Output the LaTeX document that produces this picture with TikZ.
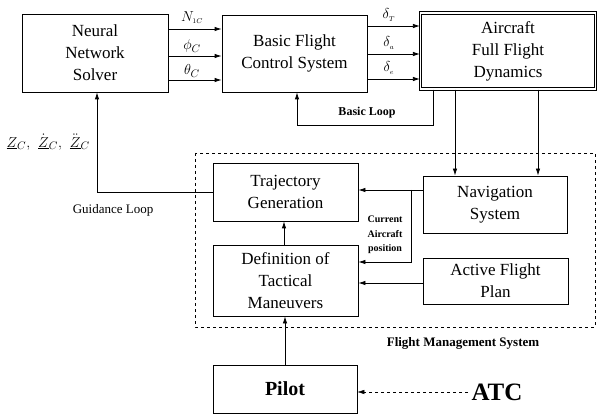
\documentclass[tikz,border=0pt]{standalone}
\usepackage{fontspec}
\setmainfont{Liberation Serif}
\usetikzlibrary{arrows.meta,calc}

\begin{document}
\begin{tikzpicture}[x=1pt,y=-1pt,
  blk/.style={draw,thick,align=center,font=\fontsize{17}{22}\selectfont,inner sep=0pt},
  arr/.style={thick,-{Latex[length=7pt,width=4.5pt]}},
  lbl/.style={font=\fontsize{15}{18}\selectfont}]
\useasboundingbox (0,0) rectangle (600,414);
\node[blk,minimum width=146,minimum height=78] (nns) at (95,53) {Neural\\Network\\Solver};
\node[blk,minimum width=145,minimum height=77] (bfcs) at (294.5,53.5) {Basic Flight\\Control System};
\node[blk,minimum width=175,minimum height=76,line width=1.2pt,double,double distance=1.3pt] (acft) at (508,51) {Aircraft\\Full Flight\\Dynamics};
\draw[dashed,thick] (195,153) rectangle (595,327);
\node[blk,minimum width=145,minimum height=58] (traj) at (285.5,192) {Trajectory\\Generation};
\node[blk,minimum width=144,minimum height=57] (nav) at (495,204.5) {Navigation\\System};
\node[blk,minimum width=145,minimum height=71] (def) at (285.5,280.5) {Definition of\\Tactical\\Maneuvers};
\node[blk,minimum width=145,minimum height=46] (afp) at (495.5,281) {Active Flight\\Plan};
\node[blk,minimum width=144,minimum height=48,font=\fontsize{20}{24}\selectfont\bfseries] (pilot) at (285,389) {Pilot};
\node[font=\fontsize{25}{30}\selectfont\bfseries] (atc) at (497,392) {ATC};
% commands to the control system
\draw[arr] (nns.east |- 0,29) -- (bfcs.west |- 0,29);
\draw[arr] (nns.east |- 0,56) -- (bfcs.west |- 0,56);
\draw[arr] (nns.east |- 0,80) -- (bfcs.west |- 0,80);
\node[lbl] at (192,18) {$N_{\scriptscriptstyle 1C}$};
\node[lbl] at (192,46) {$\phi_C$};
\node[lbl] at (192,71) {$\theta_C$};
\draw[arr] (bfcs.east |- 0,26) -- (acft.west |- 0,26);
\draw[arr] (bfcs.east |- 0,54) -- (acft.west |- 0,54);
\draw[arr] (bfcs.east |- 0,79) -- (acft.west |- 0,79);
\node[lbl] at (389,15) {$\delta_{\scriptscriptstyle T}$};
\node[lbl] at (389,43) {$\delta_{\scriptscriptstyle a}$};
\node[lbl] at (389,68) {$\delta_{\scriptscriptstyle e}$};
% basic loop
\draw[arr] (acft.south -| 433,0) -- (433,125) -- (297,125) -- (bfcs.south -| 297,0);
\node[font=\fontsize{12}{14}\selectfont\bfseries] at (367,113) {Basic Loop};
% aircraft state to navigation
\draw[arr] (acft.south -| 455,0) -- (nav.north -| 455,0);
\draw[arr] (acft.south -| 538,0) -- (nav.north -| 538,0);
\draw[arr] (nav.west |- 0,190) -- (traj.east |- 0,190);
\draw[arr] (411,190) -- (411,262) -- (def.east |- 0,262);
\node[font=\fontsize{10}{14.5}\selectfont\bfseries,align=center] at (385,235) {Current\\Aircraft\\position};
\draw[arr] (afp.west |- 0,283) -- (def.east |- 0,283);
\draw[arr] (def.north -| 284,0) -- (traj.south -| 284,0);
\draw[arr] (pilot.north -| 285,0) -- (def.south -| 285,0);
\draw[arr,thin,dashed] (atc.west) -- (pilot.east |- atc.west);
\node[font=\fontsize{13}{15}\selectfont\bfseries] at (463,343) {Flight Management System};
% guidance loop
\draw[arr] (traj.west |- 0,192) -- (97,192) -- (nns.south -| 97,0);
\node[font=\fontsize{13}{15}\selectfont] at (113,210) {Guidance Loop};
\node[lbl,anchor=west] at (3,142) {$\underline{Z}_C{,}\;\; \dot{\underline{Z}}_C{,}\;\; \ddot{\underline{Z}}_C$};
\end{tikzpicture}
\end{document}
